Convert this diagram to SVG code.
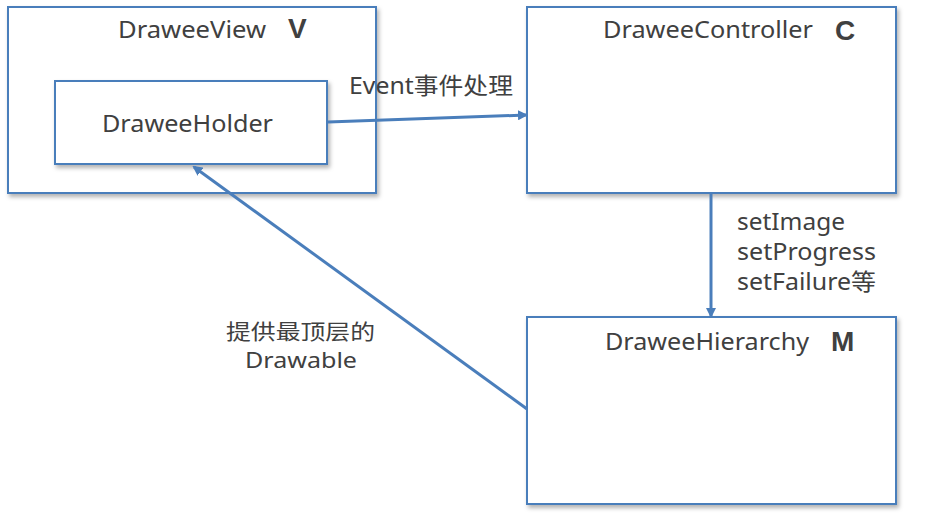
<svg xmlns="http://www.w3.org/2000/svg" width="949" height="517" viewBox="0 0 949 517">
<defs>
<filter id="sh" x="-10%" y="-10%" width="120%" height="125%">
<feDropShadow dx="2" dy="3" stdDeviation="2" flood-color="#000" flood-opacity="0.3"/>
</filter>
<marker id="ah" markerWidth="10" markerHeight="10" refX="8" refY="5" orient="auto" markerUnits="userSpaceOnUse" viewBox="0 0 10 10">
<path d="M0,0 L10,5 L0,10 Z" fill="#4a7ebb"/>
</marker>
<style>
.box{fill:#fff;stroke:#4a7ebb;stroke-width:2;filter:url(#sh)}
.t{font-family:"Noto Sans","Noto Sans CJK SC",sans-serif;font-size:23px;fill:#404040}
.s{font-size:21px}
.b{font-family:"Liberation Sans",Arial,sans-serif;font-size:28px;font-weight:bold;fill:#404040}
.c{stroke:#4a7ebb;stroke-width:3;fill:none;marker-end:url(#ah)}
</style>
</defs>
<rect width="949" height="517" fill="#fff"/>
<g id="draweeview">
<rect class="box" x="8" y="7" width="368" height="186"/>
<text class="t" x="118" y="38" textLength="148" lengthAdjust="spacingAndGlyphs">DraweeView</text>
<text class="b" x="288" y="38">V</text>
</g>
<g id="draweeholder">
<rect class="box" x="55" y="81" width="272" height="83"/>
<text class="t" x="102" y="132" textLength="171" lengthAdjust="spacingAndGlyphs">DraweeHolder</text>
</g>
<g id="draweecontroller">
<rect class="box" x="527" y="7" width="369" height="186"/>
<text class="t" x="603" y="38" textLength="210" lengthAdjust="spacingAndGlyphs">DraweeController</text>
<text class="b" x="835" y="40">C</text>
</g>
<g id="draweehierarchy">
<rect class="box" x="527" y="317" width="369" height="187"/>
<text class="t" x="605" y="350" textLength="204" lengthAdjust="spacingAndGlyphs">DraweeHierarchy</text>
<text class="b" x="831" y="351">M</text>
</g>
<g id="connectors">
<line class="c" x1="328" y1="122" x2="526" y2="115"/>
<text class="t" x="349" y="94" textLength="164" lengthAdjust="spacingAndGlyphs">Event事件处理</text>
<line class="c" x1="711" y1="194" x2="711" y2="316"/>
<text class="t" x="737" y="230" textLength="108" lengthAdjust="spacingAndGlyphs">setImage</text>
<text class="t" x="737" y="260" textLength="139" lengthAdjust="spacingAndGlyphs">setProgress</text>
<text class="t" x="737" y="290" textLength="139" lengthAdjust="spacingAndGlyphs">setFailure等</text>
<line class="c" x1="527" y1="409" x2="194" y2="167"/>
<text class="t s" x="226" y="339" textLength="149" lengthAdjust="spacingAndGlyphs">提供最顶层的</text>
<text class="t s" x="245" y="368" textLength="112" lengthAdjust="spacingAndGlyphs">Drawable</text>
</g>
</svg>
